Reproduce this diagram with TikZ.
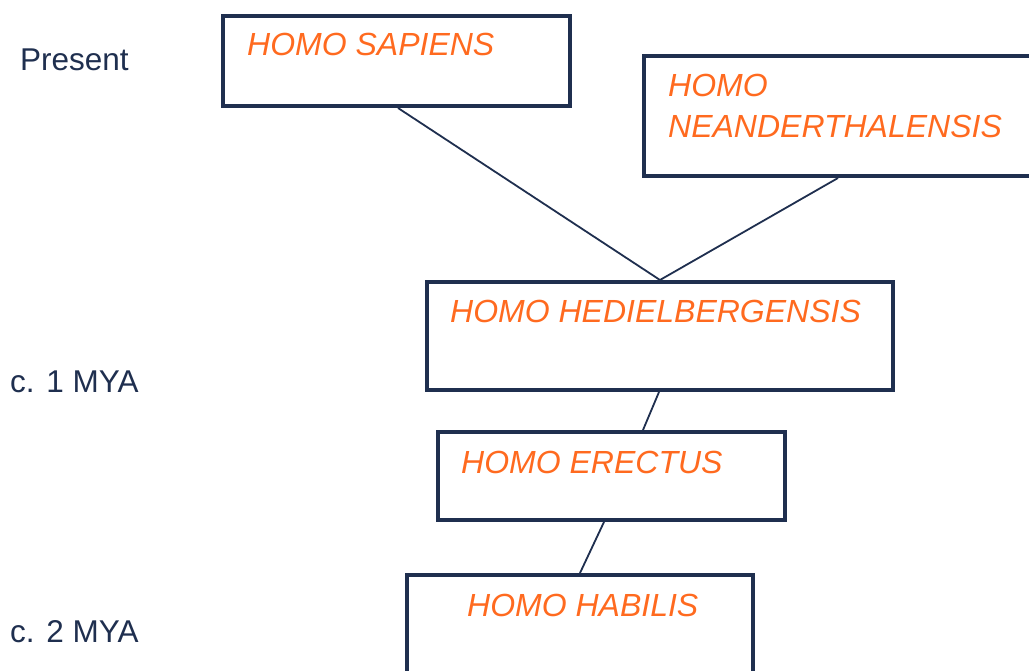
\documentclass[tikz,border=0pt]{standalone}
\usepackage{fontspec}
\setmainfont{Liberation Sans}
\definecolor{navy}{HTML}{1F2F4F}
\definecolor{sporange}{HTML}{FF6A1F}
\tikzset{
  spbox/.style={draw=navy, line width=4pt, inner sep=0pt, anchor=north west, fill=white},
  sptext/.style={text=sporange, font=\fontsize{32}{41}\selectfont\itshape, anchor=base west, inner sep=0pt, align=left},
  eralabel/.style={text=navy, font=\fontsize{31.5}{35}\selectfont, anchor=base west, inner sep=0pt},
  link/.style={draw=navy, line width=1.8pt}
}
\begin{document}
\begin{tikzpicture}[x=1pt,y=-1pt]
\useasboundingbox (0,0) rectangle (1029,671);
\clip (0,0) rectangle (1029,671);
\fill[white] (0,0) rectangle (1029,671);
% era labels
\node[eralabel] (present) at (20,71) {Present};
\node[eralabel] (mya1) at (10,392) {c. 1 MYA};
\node[eralabel] (mya2) at (10,642) {c. 2 MYA};
% boxes
\node[spbox, minimum width=347pt, minimum height=90pt] (sap) at (221,14) {};
\node[spbox, minimum width=403pt, minimum height=120pt] (nea) at (642,54) {};
\node[spbox, minimum width=466pt, minimum height=108pt] (hei) at (425,280) {};
\node[spbox, minimum width=347pt, minimum height=88pt] (ere) at (436,430) {};
\node[spbox, minimum width=346pt, minimum height=123pt] (hab) at (405,573) {};
% texts
\node[sptext] (tsap) at (247,56) {HOMO SAPIENS};
\node[sptext] (tnea1) at (668,97) {HOMO};
\node[sptext] (tnea2) at (668,138) {NEANDERTHALENSIS};
\node[sptext] (thei) at (450,323) {HOMO HEDIELBERGENSIS};
\node[sptext] (tere) at (461,473) {HOMO ERECTUS};
\node[sptext] (thab) at (467,616) {HOMO HABILIS};
% connectors
\draw[link] ([xshift=177pt]sap.south west) -- ([xshift=235pt]hei.north west);
\draw[link] ([xshift=196pt]nea.south west) -- ([xshift=235pt]hei.north west);
\draw[link] ([xshift=234pt]hei.south west) -- ([xshift=207pt]ere.north west);
\draw[link] ([xshift=168pt]ere.south west) -- ([xshift=175pt]hab.north west);
\end{tikzpicture}
\end{document}
